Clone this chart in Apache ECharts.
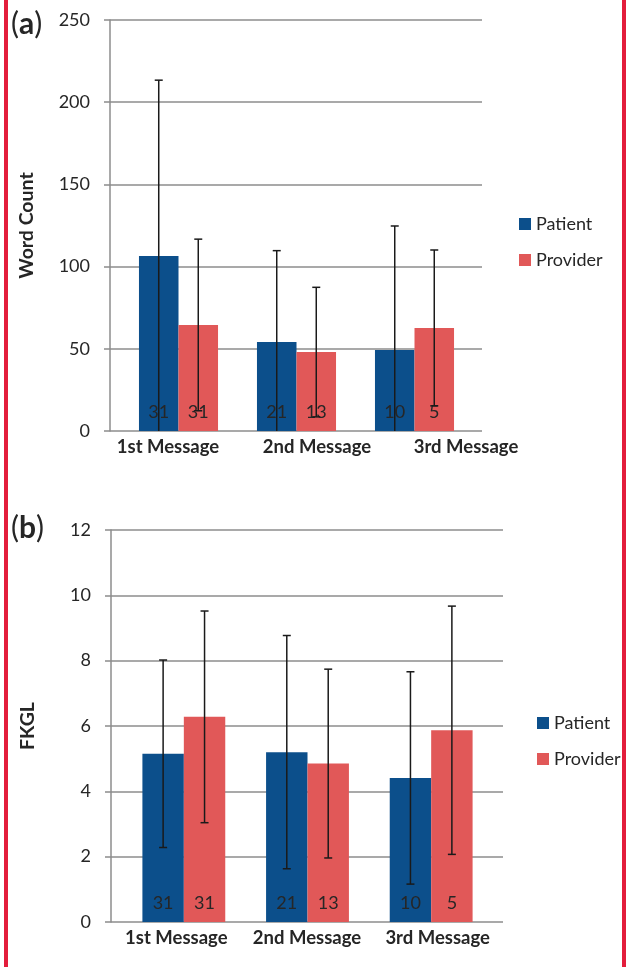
<!DOCTYPE html>
<html>
<head>
<meta charset="utf-8">
<script src="https://cdn.jsdelivr.net/npm/echarts@6/dist/echarts.min.js"></script>
<style>
html,body{margin:0;padding:0;background:#fff;}
#main{width:626px;height:967px;}
</style>
</head>
<body>
<div id="main"></div>
<script>
// 类目与样本数
var categories=['1st Message','2nd Message','3rd Message'];
var patientCount=[31,21,10];
var providerCount=[31,13,5];
// (a) Word Count 均值与标准差
var wordPatientMean=[106.4,54.1,49.3];
var wordPatientSd=[107,55.6,75.4];
var wordProviderMean=[64.5,48,62.7];
var wordProviderSd=[52.2,39.4,47.4];
var wordTicks=[0,50,100,150,200,250];
// (b) FKGL 均值与标准差
var fkglPatientMean=[5.15,5.2,4.41];
var fkglPatientSd=[2.87,3.57,3.25];
var fkglProviderMean=[6.28,4.85,5.87];
var fkglProviderSd=[3.24,2.89,3.8];
var fkglTicks=[0,2,4,6,8,10,12];

var BLUE='#0c4f8b', RED='#e15858', INK='#262626', LINE='#8c8c8c';
var FONT='Lato';
var GAP=0.33;

/**
 * 误差线数据 [类目, 下限, 上限]
 */
function errData(mean, sd){
    return mean.map(function(m, i){
        return [i, m-sd[i], m+sd[i]];
    });
}

/**
 * 误差线绘制，side=-1 为左柱，1 为右柱
 */
function errRender(side){
    return function(params, api){
        var idx=api.value(0);
        var top=api.coord([idx, api.value(2)]);
        var low=api.coord([idx, api.value(1)]);
        var cs=params.coordSys;
        var bottom=cs.y+cs.height;
        var bw=api.size([1, 0])[0]*(1-GAP)/2;
        var x=top[0]+side*bw/2;
        var cap=4;
        var style={stroke:'#1a1a1a', lineWidth:1.5};
        var children=[
            {type:'line', shape:{x1:x, y1:top[1], x2:x, y2:Math.min(low[1], bottom)}, style:style},
            {type:'line', shape:{x1:x-cap, y1:top[1], x2:x+cap, y2:top[1]}, style:style}
        ];
        if(low[1]<bottom){
            children.push({type:'line', shape:{x1:x-cap, y1:low[1], x2:x+cap, y2:low[1]}, style:style});
        }
        return {type:'group', children:children};
    };
}

function barSeries(name, color, data, counts, axisIndex){
    return {
        name:name,
        type:'bar',
        xAxisIndex:axisIndex,
        yAxisIndex:axisIndex,
        data:data,
        barGap:'0%',
        barCategoryGap:(GAP*100)+'%',
        itemStyle:{color:color},
        label:{
            show:true,
            position:'insideBottom',
            distance:10,
            fontFamily:FONT,
            fontSize:18,
            color:INK,
            formatter:function(p){return counts[p.dataIndex];}
        }
    };
}

function errSeries(data, side, axisIndex){
    return {
        type:'custom',
        xAxisIndex:axisIndex,
        yAxisIndex:axisIndex,
        z:3,
        silent:true,
        encode:{x:0, y:[1, 2]},
        data:data,
        renderItem:errRender(side)
    };
}

function valueAxis(grid, ticks, name){
    return {
        gridIndex:grid,
        type:'value',
        min:ticks[0],
        max:ticks[ticks.length-1],
        interval:ticks[1]-ticks[0],
        name:name,
        nameLocation:'middle',
        nameGap:73,
        nameTextStyle:{fontFamily:FONT, fontSize:19.5, fontWeight:'bold', color:INK},
        axisLine:{show:true, lineStyle:{color:LINE, width:1.5}},
        axisTick:{show:true, length:6, lineStyle:{color:LINE, width:1.5}},
        splitLine:{show:true, lineStyle:{color:LINE, width:1.5}},
        axisLabel:{margin:20, fontFamily:FONT, fontSize:18, color:INK}
    };
}

function hiddenValueAxis(grid, ticks){
    return {gridIndex:grid, type:'value', min:ticks[0], max:ticks[ticks.length-1], show:false};
}

var labelAxisStyle={
    axisLine:{show:false},
    axisTick:{show:false},
    axisLabel:{margin:7, interval:0, fontFamily:FONT, fontSize:18.5, fontWeight:'bold', color:INK}
};

var legendText={fontFamily:FONT, fontSize:18, color:INK, lineHeight:20};

var myChart=echarts.init(document.getElementById('main'));

var option={
    animation:false,
    backgroundColor:'#fff',
    grid:[
        {left:110, top:20, width:372, height:411},
        {left:119.5, top:20, width:354, height:411},
        {left:93.5, top:20, width:447, height:411},
        {left:111, top:530, width:392, height:392},
        {left:122, top:530, width:371, height:392}
    ],
    xAxis:[
        {gridIndex:0, type:'category', data:categories, show:false},
        {gridIndex:1, type:'category', data:categories, show:false},
        Object.assign({gridIndex:2, type:'category', data:categories}, labelAxisStyle),
        Object.assign({gridIndex:3, type:'category', data:categories}, labelAxisStyle),
        {gridIndex:4, type:'category', data:categories, show:false}
    ],
    yAxis:[
        valueAxis(0, wordTicks, 'Word Count'),
        hiddenValueAxis(1, wordTicks),
        hiddenValueAxis(2, wordTicks),
        valueAxis(3, fkglTicks, 'FKGL'),
        hiddenValueAxis(4, fkglTicks)
    ],
    legend:[
        {
            data:['Patient','Provider'], orient:'vertical', left:514, top:209,
            icon:'rect', itemWidth:12, itemHeight:12, itemGap:16,
            textStyle:legendText
        },
        {
            data:['Patient','Provider'], orient:'vertical', left:532, top:708,
            icon:'rect', itemWidth:12, itemHeight:12, itemGap:16,
            textStyle:legendText
        }
    ],
    graphic:[
        // 左右红色边框
        {type:'rect', left:4, top:0, shape:{width:4, height:967}, style:{fill:'#e31d3c'}},
        {type:'rect', left:622, top:0, shape:{width:4, height:967}, style:{fill:'#e31d3c'}},
        {type:'text', left:11, top:9, style:{text:'{p|(}{b|a}{p|)}', rich:{
            p:{fontFamily:FONT, fontSize:30, fill:INK},
            b:{fontFamily:FONT, fontSize:30, fontWeight:'bold', fill:INK}}}},
        {type:'text', left:11, top:513, style:{text:'{p|(}{b|b}{p|)}', rich:{
            p:{fontFamily:FONT, fontSize:30, fill:INK},
            b:{fontFamily:FONT, fontSize:30, fontWeight:'bold', fill:INK}}}}
    ],
    series:[
        barSeries('Patient', BLUE, wordPatientMean, patientCount, 1),
        barSeries('Provider', RED, wordProviderMean, providerCount, 1),
        errSeries(errData(wordPatientMean, wordPatientSd), -1, 1),
        errSeries(errData(wordProviderMean, wordProviderSd), 1, 1),
        barSeries('Patient', BLUE, fkglPatientMean, patientCount, 4),
        barSeries('Provider', RED, fkglProviderMean, providerCount, 4),
        errSeries(errData(fkglPatientMean, fkglPatientSd), -1, 4),
        errSeries(errData(fkglProviderMean, fkglProviderSd), 1, 4)
    ]
};

myChart.setOption(option);
</script>
</body>
</html>
